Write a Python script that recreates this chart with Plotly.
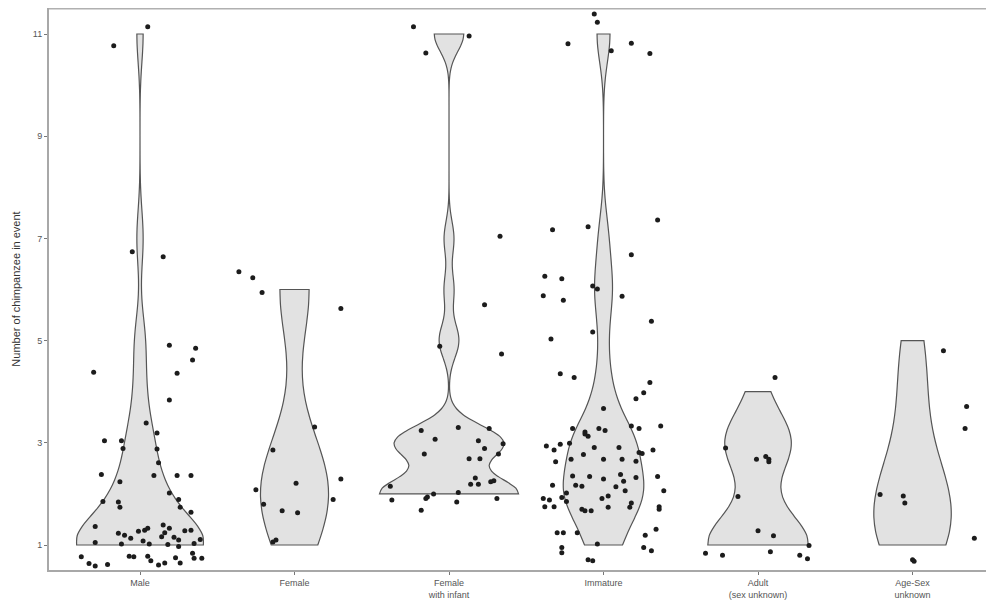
import numpy as np
import plotly.graph_objects as go

categories = ["Male", "Female", "Female<br>with infant", "Immature",
              "Adult<br>(sex unknown)", "Age-Sex<br>unknown"]
y_ticks = [1, 3, 5, 7, 9, 11]

male_dx = [0.05, -0.17, -0.05, 0.15, 0.19, 0.36, 0.34, -0.30, 0.24, 0.19, 0.04, 0.11, -0.23, -0.12,
           -0.11, 0.11, 0.12, -0.25, -0.13, 0.09, 0.24, 0.33, 0.19, -0.24, -0.14, -0.13, 0.25, 0.26,
           0.33, -0.29, 0.15, -0.14, -0.10, -0.06, -0.01, 0.03, 0.05, 0.14, 0.16, 0.19, 0.29, 0.33,
           -0.29, -0.12, 0.02, 0.06, 0.18, 0.22, 0.25, 0.25, 0.35, 0.39, -0.38, -0.33, -0.29, -0.21,
           -0.07, -0.04, 0.05, 0.07, 0.12, 0.16, 0.23, 0.26, 0.34, 0.35, 0.40]
male_y = [11.14, 10.77, 6.74, 6.64, 4.91, 4.85, 4.62, 4.38, 4.36, 3.84, 3.39, 3.19, 3.04, 3.04,
          2.89, 2.88, 2.61, 2.38, 2.24, 2.36, 2.36, 2.36, 2.02, 1.85, 1.84, 1.74, 1.89, 1.74,
          1.64, 1.36, 1.39, 1.23, 1.19, 1.13, 1.27, 1.29, 1.33, 1.16, 1.24, 1.33, 1.28, 1.29,
          1.05, 1.02, 1.08, 1.02, 1.01, 1.15, 1.10, 0.97, 1.03, 1.11, 0.77, 0.64, 0.59, 0.62,
          0.78, 0.77, 0.78, 0.69, 0.61, 0.65, 0.75, 0.65, 0.84, 0.74, 0.74]

female_dx = [-0.36, -0.27, -0.21, 0.30, 0.13, -0.14, 0.30, -0.25, 0.01, -0.20, 0.25, -0.08,
             0.02, -0.14, -0.12]
female_y = [6.35, 6.23, 5.94, 5.63, 3.31, 2.86, 2.29, 2.08, 2.21, 1.80, 1.89, 1.67, 1.63, 1.06, 1.10]

infant_dx = [-0.23, -0.15, 0.13, 0.33, 0.23, -0.06, 0.34, -0.18, 0.06, 0.26, -0.09, 0.19, 0.35,
             0.23, -0.16, 0.32, 0.13, 0.20, 0.17, 0.14, 0.19, 0.27, 0.29, -0.38, -0.10, -0.14,
             -0.15, 0.06, -0.37, 0.05, 0.31, -0.18]
infant_y = [11.14, 10.63, 10.96, 7.04, 5.70, 4.89, 4.74, 3.24, 3.30, 3.28, 3.07, 3.04, 2.98,
            2.89, 2.78, 2.78, 2.69, 2.69, 2.31, 2.19, 2.19, 2.24, 2.26, 2.15, 2.00, 1.94,
            1.91, 2.03, 1.88, 1.84, 1.91, 1.68]

immature_dx = [-0.06, -0.04, -0.23, 0.05, 0.18, 0.30, -0.33, -0.10, 0.35, 0.18, -0.38, -0.27,
               -0.39, -0.26, -0.07, -0.04, 0.12, 0.31, -0.07, -0.34, -0.28, -0.19, 0.30, 0.26,
               0.21, 0.00, -0.20, -0.12, -0.10, -0.12, -0.03, 0.01, 0.18, 0.23, 0.37, -0.37,
               -0.32, -0.28, -0.22, -0.06, 0.10, 0.23, 0.25, 0.32, -0.31, -0.21, -0.13, 0.00,
               0.12, 0.21, -0.20, -0.09, 0.00, 0.11, 0.13, 0.21, 0.35, -0.33, -0.18, -0.14,
               0.08, 0.14, 0.39, -0.24, -0.27, -0.39, -0.35, -0.24, -0.01, 0.03, -0.38, -0.32,
               0.03, 0.18, 0.17, 0.36, 0.36, -0.14, -0.12, -0.08, -0.30, -0.26, -0.17, 0.34,
               0.27, -0.04, -0.27, -0.27, 0.26, 0.31, -0.10, -0.07]
immature_y = [11.39, 11.23, 10.81, 10.67, 10.82, 10.62, 7.17, 7.23, 7.36, 6.68, 6.26, 6.21,
              5.88, 5.79, 6.07, 6.01, 5.87, 5.38, 5.17, 5.03, 4.35, 4.28, 4.18, 3.98,
              3.86, 3.67, 3.28, 3.17, 3.13, 3.21, 3.28, 3.24, 3.33, 3.28, 3.33, 2.94,
              2.86, 2.97, 2.99, 2.91, 2.91, 2.81, 2.79, 2.86, 2.63, 2.68, 2.77, 2.68,
              2.68, 2.64, 2.35, 2.34, 2.29, 2.38, 2.25, 2.32, 2.34, 2.17, 2.17, 2.15,
              2.14, 2.06, 2.06, 2.02, 1.93, 1.91, 1.88, 1.85, 1.91, 1.96, 1.75, 1.75,
              1.74, 1.82, 1.74, 1.75, 1.70, 1.70, 1.67, 1.67, 1.24, 1.24, 1.24, 1.31,
              1.19, 1.02, 0.95, 0.85, 0.95, 0.89, 0.71, 0.69]

adult_dx = [0.11, -0.21, -0.01, 0.05, 0.07, 0.07, -0.13, 0.00, 0.10, 0.33, -0.34, -0.23,
            0.08, 0.27, 0.32]
adult_y = [4.28, 2.90, 2.68, 2.73, 2.68, 2.63, 1.95, 1.28, 1.18, 0.99, 0.84, 0.80, 0.87, 0.80, 0.73]

unknown_dx = [0.20, 0.35, 0.34, -0.21, -0.06, -0.05, 0.40, 0.00, 0.01]
unknown_y = [4.80, 3.71, 3.28, 1.99, 1.96, 1.82, 1.13, 0.71, 0.68]

groups = [(male_dx, male_y), (female_dx, female_y), (infant_dx, infant_y),
          (immature_dx, immature_y), (adult_dx, adult_y), (unknown_dx, unknown_y)]

# violin styling per group (kernel bandwidth, drawn width)
bandwidths = [0.55, 0.98, 0.336, 0.544, 0.576, 0.82]
widths = [0.82, 0.44, 0.90, 0.52, 0.65, 0.50]

fig = go.Figure()
for i, (dx, yv) in enumerate(groups):
    counts = np.round(np.array(yv))  # underlying integer group sizes
    fig.add_trace(go.Violin(
        x0=i, y=counts, orientation="v", points=False,
        box_visible=False, meanline_visible=False,
        spanmode="hard", bandwidth=bandwidths[i],
        scalemode="width", width=widths[i],
        fillcolor="#e2e2e2", line=dict(color="#555555", width=1.2),
        showlegend=False, hoverinfo="skip"))

for i, (dx, yv) in enumerate(groups):
    fig.add_trace(go.Scatter(
        x=i + np.array(dx), y=yv, mode="markers",
        marker=dict(color="#1c1c1c", size=5),
        showlegend=False, hoverinfo="skip"))

axis_col = "#a8a8a8"
fig.update_layout(
    width=994, height=600,
    margin=dict(l=41, r=0, t=0, b=38, autoexpand=False),
    paper_bgcolor="white", plot_bgcolor="white",
    violinmode="overlay",
    font=dict(family="Liberation Sans, Arial, sans-serif", size=10, color="#555555"),
    xaxis=dict(type="linear", range=[-0.589, 5.579], tickmode="array",
               tickvals=list(range(len(categories))), ticktext=categories,
               automargin=False,
               showgrid=False, zeroline=False, showline=True, linecolor=axis_col,
               linewidth=2, ticks="outside", ticklen=3, tickcolor="#777777",
               tickfont=dict(size=9, color="#555555")),
    yaxis=dict(range=[0.511, 11.509], tickmode="array", tickvals=y_ticks,
               automargin=False,
               showgrid=False, zeroline=False, showline=True, linecolor=axis_col,
               linewidth=2, ticks="outside", ticklen=3, tickcolor="#777777",
               tickfont=dict(size=9, color="#555555"),
               title=dict(text="Number of chimpanzee in event",
                          font=dict(size=11, color="#333333"), standoff=10)),
    shapes=[dict(type="line", xref="paper", yref="paper", x0=0, x1=1, y0=1, y1=1,
                 line=dict(color="#b0b0b0", width=3))],
)

fig.write_html("out.html")
